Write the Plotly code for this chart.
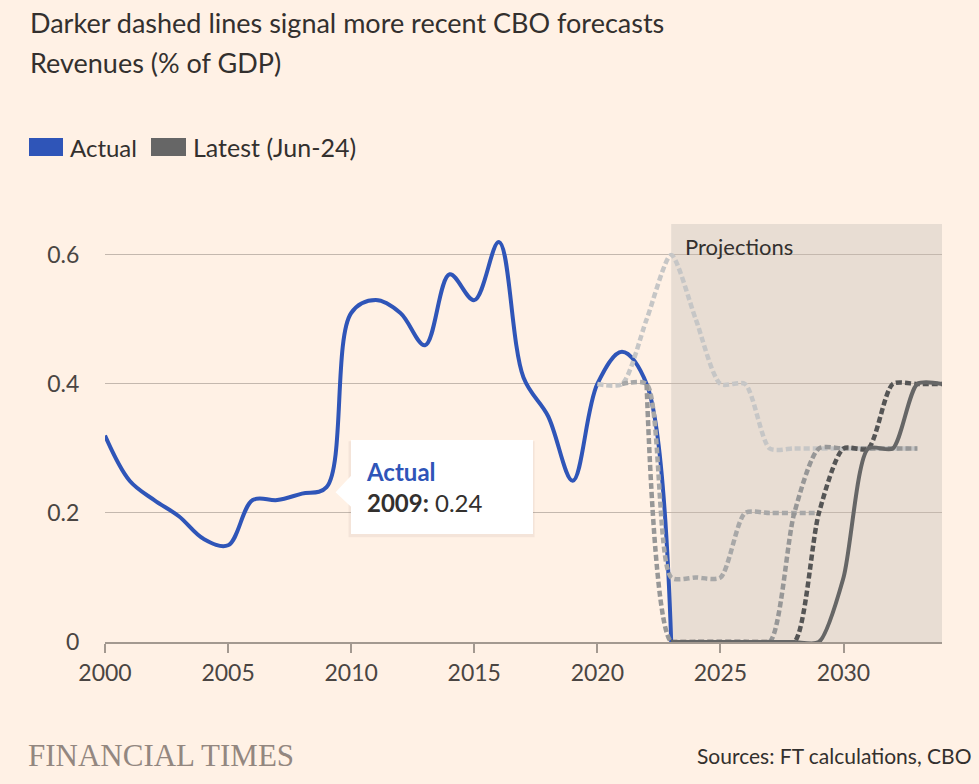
import plotly.graph_objects as go

# ---- data ----
actual_years = list(range(2000, 2024))
actual_vals = [0.32, 0.25, 0.22, 0.195, 0.16, 0.15, 0.22, 0.22, 0.23, 0.24,
               0.51, 0.53, 0.51, 0.46, 0.57, 0.53, 0.62, 0.41, 0.35, 0.25,
               0.40, 0.45, 0.40, 0.0]

f1_years = list(range(2020, 2034))
f1_vals = [0.4, 0.4, 0.5, 0.6, 0.5, 0.4, 0.4, 0.3, 0.3, 0.3, 0.3, 0.3, 0.3, 0.3]

f2_years = list(range(2021, 2030))
f2_vals = [0.4, 0.4, 0.1, 0.1, 0.1, 0.2, 0.2, 0.2, 0.2]

f3_years = list(range(2022, 2034))
f3_vals = [0.4, 0.0, 0.0, 0.0, 0.0, 0.0, 0.2, 0.3, 0.3, 0.3, 0.3, 0.3]

f4_years = list(range(2023, 2035))
f4_vals = [0.0, 0.0, 0.0, 0.0, 0.0, 0.0, 0.2, 0.3, 0.3, 0.4, 0.4, 0.4]

latest_years = list(range(2023, 2035))
latest_vals = [0.0, 0.0, 0.0, 0.0, 0.0, 0.0, 0.0, 0.1, 0.3, 0.3, 0.4, 0.4]

x_ticks = [2000, 2005, 2010, 2015, 2020, 2025, 2030]
y_ticks = [0, 0.2, 0.4, 0.6]
y_ticktext = ["0", "0.2", "0.4", "0.6"]

BG = "#fff1e5"
TEXT = "#33302e"
BLUE = "#2f55b8"
FONT = "Lato"

fig = go.Figure()

fig.add_trace(go.Scatter(x=actual_years, y=actual_vals, mode="lines",
                         line=dict(color=BLUE, width=4, shape="spline", smoothing=1),
                         name="Actual", hoverinfo="skip"))

dashed = [
    (f1_years, f1_vals, "#c6c6c6"),
    (f2_years, f2_vals, "#a8a8a8"),
    (f3_years, f3_vals, "#979797"),
    (f4_years, f4_vals, "#555555"),
]
for xs, ys, col in dashed:
    fig.add_trace(go.Scatter(x=xs, y=ys, mode="lines",
                             line=dict(color=col, width=4.5, dash="6px,3px",
                                       shape="spline", smoothing=0.7),
                             showlegend=False, hoverinfo="skip"))

fig.add_trace(go.Scatter(x=latest_years, y=latest_vals, mode="lines",
                         line=dict(color="#666666", width=4, shape="spline", smoothing=0.7),
                         name="Latest (Jun-24)", hoverinfo="skip"))

L, R, T, B = 105, 37, 224, 142
W, H = 979, 784
PW, PH = W - L - R, H - T - B


def px(xp):
    return (xp - L) / PW


def py(yp):
    return (H - B - yp) / PH


shapes = [
    dict(type="rect", xref="x", yref="paper", x0=2023, x1=2034, y0=0, y1=1,
         fillcolor="#e8ddd3", line=dict(width=0), layer="below"),
    # legend swatches
    dict(type="rect", xref="paper", yref="paper", x0=px(29), x1=px(63), y0=py(156), y1=py(138),
         fillcolor=BLUE, line=dict(width=0)),
    dict(type="rect", xref="paper", yref="paper", x0=px(151), x1=px(186), y0=py(156), y1=py(138),
         fillcolor="#666666", line=dict(width=0)),
    # tooltip shadow
    dict(type="path", xref="x", yref="y", xsizemode="pixel", ysizemode="pixel",
         xanchor=2009, yanchor=0.24, path="M 22,-50 L 208,-50 L 208,46 L 22,46 Z",
         fillcolor="rgba(60,40,30,0.06)", line=dict(width=0)),
    # tooltip pointer
    dict(type="path", xref="x", yref="y", xsizemode="pixel", ysizemode="pixel",
         xanchor=2009, yanchor=0.24, path="M 9,-5 L 25,-20 L 25,12 Z",
         fillcolor="white", line=dict(width=0)),
]

annotations = [
    dict(text="Darker dashed lines signal more recent CBO forecasts", x=px(28), y=py(22),
         xref="paper", yref="paper", xanchor="left", yanchor="middle", showarrow=False,
         font=dict(family=FONT, size=27, color=TEXT)),
    dict(text="Revenues (% of GDP)", x=px(28), y=py(62),
         xref="paper", yref="paper", xanchor="left", yanchor="middle", showarrow=False,
         font=dict(family=FONT, size=27, color=TEXT)),
    dict(text="Actual", x=px(68), y=py(147),
         xref="paper", yref="paper", xanchor="left", yanchor="middle", showarrow=False,
         font=dict(family=FONT, size=24, color=TEXT)),
    dict(text="Latest (Jun-24)", x=px(191), y=py(147),
         xref="paper", yref="paper", xanchor="left", yanchor="middle", showarrow=False,
         font=dict(family=FONT, size=25, color=TEXT)),
    dict(text="Projections", x=2023, y=py(246), xref="x", yref="paper",
         xanchor="left", yanchor="middle", xshift=12, showarrow=False,
         font=dict(family=FONT, size=22, color=TEXT)),
    dict(text="FINANCIAL TIMES", x=px(26), y=py(755),
         xref="paper", yref="paper", xanchor="left", yanchor="middle", showarrow=False,
         font=dict(family="Liberation Serif", size=31, color="#938780")),
    dict(text="Sources: FT calculations, CBO", x=px(973), y=py(755),
         xref="paper", yref="paper", xanchor="right", yanchor="middle", showarrow=False,
         font=dict(family=FONT, size=21, color=TEXT)),
    dict(text="<b><span style='color:%s'>Actual</span></b><br><b>2009:</b> 0.24" % BLUE,
         x=2009, y=0.24, xref="x", yref="y", xanchor="left", yanchor="middle",
         xshift=24, showarrow=False, align="left", valign="middle",
         width=152, height=64, borderpad=14, bgcolor="white", bordercolor="white",
         font=dict(family=FONT, size=24, color=TEXT)),
]

fig.update_layout(
    width=W, height=H,
    margin=dict(l=L, r=R, t=T, b=B, pad=0),
    paper_bgcolor=BG, plot_bgcolor=BG,
    showlegend=False,
    shapes=shapes, annotations=annotations,
    font=dict(family=FONT, color=TEXT),
    xaxis=dict(range=[2000, 2034], tickvals=x_ticks, ticks="outside", ticklen=9,
               tickcolor="#a39990", tickwidth=1.5, showline=True, linecolor="#a39990",
               linewidth=2, showgrid=False, zeroline=False,
               tickfont=dict(family=FONT, size=23, color="#4a4542")),
    yaxis=dict(range=[0, 0.648], tickvals=y_ticks, ticktext=y_ticktext, showgrid=True,
               gridcolor="#c4b8ae", gridwidth=1.2, zeroline=False, ticks="outside",
               ticklen=20, tickcolor="rgba(0,0,0,0)",
               tickfont=dict(family=FONT, size=23, color="#4a4542")),
)

fig.write_html("out.html", config={"displayModeBar": False},
               post_script="document.body.style.margin='0px';document.body.style.overflow='hidden';")
